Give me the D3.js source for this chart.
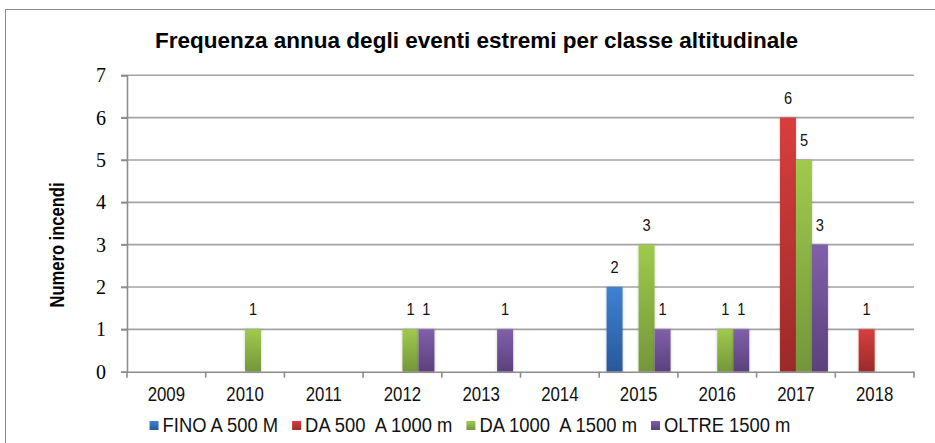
<!DOCTYPE html>
<html><head><meta charset="utf-8">
<script src="https://cdn.jsdelivr.net/npm/d3@7"></script>
<style>html,body{margin:0;padding:0;background:#fff;}svg{display:block;}</style>
</head><body>
<script>
const title = "Frequenza annua degli eventi estremi per classe altitudinale";
const yTitle = "Numero incendi";
const years = ["2009","2010","2011","2012","2013","2014","2015","2016","2017","2018"];
const seriesNames = ["FINO A 500 M","DA 500  A 1000 m","DA 1000  A 1500 m","OLTRE 1500 m"];
const fino500 =   [0,0,0,0,0,0,2,0,0,0];
const da500 =     [0,0,0,0,0,0,0,0,6,1];
const da1000 =    [0,1,0,1,0,0,3,1,5,0];
const oltre1500 = [0,0,0,1,1,0,1,1,3,0];
const yTicks = [0,1,2,3,4,5,6,7];
const colorsTop = ["#3f82d2","#d83e3d","#9fca4d","#8060aa"];
const colorsBot = ["#28589a","#9c2a29","#74963a","#5a417c"];

const seriesValues = [fino500, da500, da1000, oltre1500];
const W = 935, H = 443;
const svg = d3.select("body").append("svg").attr("width", W).attr("height", H);

const defs = svg.append("defs");
seriesNames.forEach((s, i) => {
  const g = defs.append("linearGradient").attr("id", "g" + i)
    .attr("x1", 0).attr("y1", 0).attr("x2", 0).attr("y2", 1);
  g.append("stop").attr("offset", "0%").attr("stop-color", colorsTop[i]);
  g.append("stop").attr("offset", "100%").attr("stop-color", colorsBot[i]);
});
const f = defs.append("filter").attr("id", "sh").attr("x", "-30%").attr("y", "-10%").attr("width", "160%").attr("height", "120%");
f.append("feDropShadow").attr("dx", 0).attr("dy", 0).attr("stdDeviation", 1.6)
  .attr("flood-color", "#000").attr("flood-opacity", 0.22);

function squeeze(sel, factor) {
  sel.each(function () {
    const L = this.getComputedTextLength();
    d3.select(this).attr("textLength", L * factor).attr("lengthAdjust", "spacingAndGlyphs");
  });
}

// outer border
svg.append("rect").attr("x", 5.5).attr("y", 9.5).attr("width", 960).attr("height", 460)
  .attr("fill", "none").attr("stroke", "#8a8a8a").attr("stroke-width", 1);

const plotL = 127, plotR = 914, plotT = 75.3, plotB = 371.7;
const x0 = d3.scaleBand().domain(years).range([plotL, plotR]).paddingInner(0).paddingOuter(0);
const x1 = d3.scaleBand().domain(seriesNames).range([0, x0.bandwidth()]).paddingInner(0).paddingOuter(0.46);
const y = d3.scaleLinear().domain([0, 7]).range([plotB, plotT]);

// gridlines
svg.append("g").selectAll("line").data(yTicks.filter(t => t > 0)).join("line")
  .attr("x1", plotL - 6).attr("x2", plotR)
  .attr("y1", d => y(d)).attr("y2", d => y(d))
  .attr("stroke", "#a3a3a3").attr("stroke-width", 1.6);

// y axis
const yAx = svg.append("g").attr("transform", `translate(${plotL},0)`)
  .call(d3.axisLeft(y).tickValues(yTicks).tickSize(6).tickFormat(d3.format("d")));
yAx.select(".domain").attr("stroke", "#8c8c8c").attr("stroke-width", 1.6);
yAx.selectAll(".tick line").attr("stroke", "#8c8c8c").attr("stroke-width", 1.6);
yAx.selectAll(".tick text").attr("font-family", "'Liberation Serif', 'Times New Roman', serif")
  .attr("font-size", 20).attr("fill", "#000").attr("x", -21).attr("dy", "0.33em");

// bars
const barG = svg.append("g");
seriesNames.forEach((s, i) => {
  const vals = years.map((yr, j) => ({ yr, v: seriesValues[i][j] })).filter(d => d.v > 0);
  barG.append("g").selectAll("rect").data(vals).join("rect")
    .attr("x", d => x0(d.yr) + x1(s))
    .attr("y", d => y(d.v))
    .attr("width", x1.bandwidth())
    .attr("height", d => y(0) - y(d.v))
    .attr("fill", `url(#g${i})`)
    .attr("filter", "url(#sh)");
});

// x axis
const xAx = svg.append("g").attr("transform", `translate(0,${plotB})`)
  .call(d3.axisBottom(x0).tickSize(0).tickFormat(d => d));
xAx.select(".domain").attr("stroke", "#8c8c8c").attr("stroke-width", 1.6);
xAx.selectAll(".tick text").attr("font-family", "'Liberation Sans', Arial, sans-serif")
  .attr("font-size", 20).attr("fill", "#111").attr("y", 29.5).attr("dy", 0);
squeeze(xAx.selectAll(".tick text"), 0.84);
// category boundary ticks
xAx.append("g").selectAll("line").data(years.concat(["end"])).join("line")
  .attr("x1", (d, i) => i < years.length ? x0(d) : plotR)
  .attr("x2", (d, i) => i < years.length ? x0(d) : plotR)
  .attr("y1", 0).attr("y2", 6).attr("stroke", "#8c8c8c").attr("stroke-width", 1.6);

// data labels
const labG = svg.append("g");
seriesNames.forEach((s, i) => {
  const vals = years.map((yr, j) => ({ yr, v: seriesValues[i][j] })).filter(d => d.v > 0);
  labG.append("g").selectAll("text").data(vals).join("text")
    .attr("x", d => x0(d.yr) + x1(s) + x1.bandwidth() / 2)
    .attr("y", d => y(d.v) - 14)
    .attr("text-anchor", "middle")
    .attr("font-family", "'Liberation Sans', Arial, sans-serif")
    .attr("font-size", 17).attr("fill", "#111")
    .text(d => d.v);
});
squeeze(labG.selectAll("text"), 0.86);

// title
const t = svg.append("text").attr("x", 476.5).attr("y", 48).attr("text-anchor", "middle")
  .attr("font-family", "'Liberation Sans', Arial, sans-serif").attr("font-weight", "bold")
  .attr("font-size", 21.5).attr("fill", "#000").text(title);
t.attr("textLength", 643).attr("lengthAdjust", "spacingAndGlyphs");

// y title
const yt = svg.append("text").attr("transform", "translate(64,245) rotate(-90)")
  .attr("text-anchor", "middle")
  .attr("font-family", "'Liberation Sans', Arial, sans-serif").attr("font-weight", "bold")
  .attr("font-size", 19.5).attr("fill", "#000").text(yTitle);
yt.attr("textLength", 125).attr("lengthAdjust", "spacingAndGlyphs");

// legend
const leg = svg.append("g");
let cx = 0;
seriesNames.forEach((s, i) => {
  const g = leg.append("g");
  g.append("rect").attr("x", cx).attr("y", -11).attr("width", 9).attr("height", 9).attr("fill", `url(#g${i})`);
  const tx = g.append("text").attr("x", cx + 13).attr("y", 0)
    .attr("font-family", "'Liberation Sans', Arial, sans-serif")
    .attr("font-size", 20).attr("fill", "#111")
    .style("white-space", "pre").attr("xml:space", "preserve").text(s);
  const L = tx.node().getComputedTextLength() * 0.92;
  tx.attr("textLength", L).attr("lengthAdjust", "spacingAndGlyphs");
  cx += 13 + L + 14;
});
const legW = cx - 14;
leg.attr("transform", `translate(${470 - legW / 2},432)`);
</script>
</body></html>
